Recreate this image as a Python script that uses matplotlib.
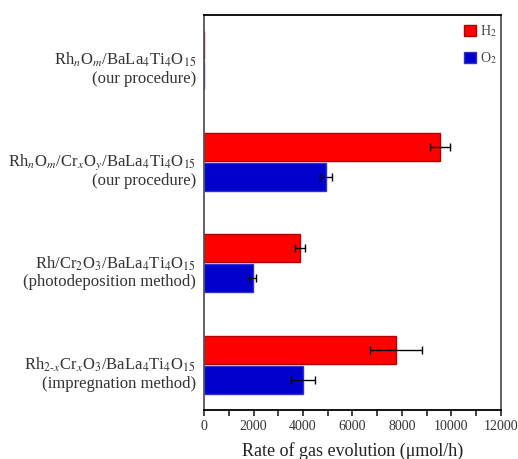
import matplotlib
matplotlib.use("Agg")
import matplotlib.pyplot as plt
import numpy as np

plt.rcParams['font.family'] = ['Liberation Serif', 'DejaVu Serif']
plt.rcParams['mathtext.fontset'] = 'stix'

samples = [
    "Rh$_n$O$_m$/BaLa$_4$Ti$_4$O$_{15}$\n(our procedure)",
    "Rh$_n$O$_m$/Cr$_x$O$_y$/BaLa$_4$Ti$_4$O$_{15}$\n(our procedure)",
    "Rh/Cr$_2$O$_3$/BaLa$_4$Ti$_4$O$_{15}$\n(photodeposition method)",
    "Rh$_{2\\text{-}x}$Cr$_x$O$_3$/BaLa$_4$Ti$_4$O$_{15}$\n(impregnation method)",
]
h2_rate = [15, 9550, 3880, 7750]
h2_err = [0, 400, 210, 1060]
o2_rate = [10, 4930, 1960, 4000]
o2_err = [0, 240, 140, 500]

fig = plt.figure(figsize=(5.18, 4.59), dpi=100)
ax = fig.add_axes([0.394, 0.107, 0.573, 0.860])

y = np.arange(len(samples))
h = 0.275

# red H2 bars above, blue O2 bars below
ax.barh(y - h / 2 - 0.01, h2_rate, height=h, color='#ff0000', edgecolor='#b00000',
        linewidth=1, label='H$_2$')
ax.barh(y + h / 2 + 0.01, o2_rate, height=h, color='#0000cc', edgecolor='#3030d0',
        linewidth=1, label='O$_2$')

err_kw = dict(fmt='none', ecolor='black', elinewidth=1, capsize=3, capthick=1)
ax.errorbar(np.array(h2_rate)[1:], (y - h / 2 - 0.01)[1:], xerr=h2_err[1:], **err_kw)
ax.errorbar(np.array(o2_rate)[1:], (y + h / 2 + 0.01)[1:], xerr=o2_err[1:], **err_kw)

ax.set_xlim(0, 12000)
ax.set_ylim(3.44, -0.44)
ax.set_xticks(np.arange(0, 12001, 2000))
ax.set_xticks(np.arange(0, 12001, 1000), minor=True)
ax.tick_params(axis='x', which='both', direction='out', length=4, width=1.2,
               labelsize=10, colors='#222222', labelcolor='#333333')
# labels sit a little below the bar-group centre
ax.set_yticks(y + 0.06)
ax.set_yticklabels(samples, fontsize=12, color='#333333', linespacing=1.15)
ax.tick_params(axis='y', length=0, pad=6)

for side in ['top', 'right', 'bottom', 'left']:
    ax.spines[side].set_linewidth(1.3)
ax.spines['left'].set_color('#555555')
ax.spines['right'].set_color('#555555')

ax.set_xlabel("Rate of gas evolution (μmol/h)", fontsize=13, color='#222222', labelpad=6)

ax.legend(loc='upper right', frameon=False, fontsize=10, handlelength=0.85,
          handleheight=0.85, handletextpad=0.3, labelspacing=0.8,
          bbox_to_anchor=(1.03, 1.01), labelcolor='#444444')

fig.savefig("out.png", dpi=100)
